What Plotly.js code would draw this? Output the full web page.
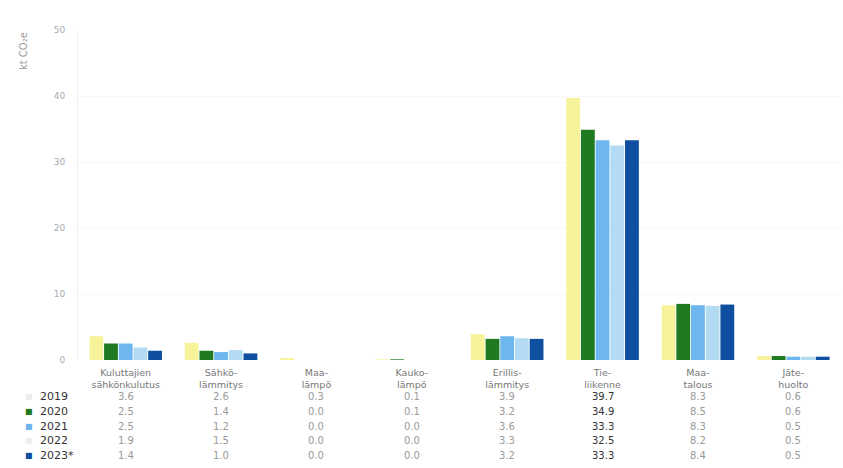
<!DOCTYPE html>
<html>
<head>
<meta charset="utf-8">
<script src="https://cdn.plot.ly/plotly-3.0.1.min.js"></script>
<style>html,body{margin:0;padding:0;background:#fff;}#chart{width:843px;height:468px;}</style>
</head>
<body>
<div id="chart"></div>
<script>
const categories = ["Kuluttajien<br>sähkönkulutus", "Sähkö-<br>lämmitys", "Maa-<br>lämpö", "Kauko-<br>lämpö", "Erillis-<br>lämmitys", "Tie-<br>liikenne", "Maa-<br>talous", "Jäte-<br>huolto"];
const years = ["2019", "2020", "2021", "2022", "2023*"];
const v2019 = [3.6, 2.6, 0.3, 0.1, 3.9, 39.7, 8.3, 0.6];
const v2020 = [2.5, 1.4, 0.0, 0.1, 3.2, 34.9, 8.5, 0.6];
const v2021 = [2.5, 1.2, 0.0, 0.0, 3.6, 33.3, 8.3, 0.5];
const v2022 = [1.9, 1.5, 0.0, 0.0, 3.3, 32.5, 8.2, 0.5];
const v2023 = [1.4, 1.0, 0.0, 0.0, 3.2, 33.3, 8.4, 0.5];
const series = [v2019, v2020, v2021, v2022, v2023];
const colors = ["#f6f39b", "#1f7a22", "#6db6ee", "#b3dcf4", "#0e4f9f"];
const yTitle = "kt CO₂e";

const traces = series.map((vals, i) => ({
  type: "bar", name: years[i], x: categories, y: vals,
  marker: {color: colors[i]}, hoverinfo: "skip"
}));

const rowY = [-0.112, -0.155, -0.2, -0.243, -0.288];
const annotations = [];
series.forEach((vals, i) => {
  vals.forEach((v, j) => {
    annotations.push({
      xref: "x", yref: "paper", x: categories[j], y: rowY[i],
      xanchor: "center", yanchor: "middle",
      text: v.toFixed(1), showarrow: false,
      font: {family: "DejaVu Sans, sans-serif", size: 10, color: j === 5 ? "#333" : "#9a9a9a"}
    });
  });
  annotations.push({
    xref: "paper", yref: "paper", x: (38 - 78) / 763, y: rowY[i], xanchor: "left", yanchor: "middle",
    text: years[i], showarrow: false,
    font: {family: "DejaVu Sans, sans-serif", size: 11, color: "#333"}
  });
  annotations.push({
    xref: "paper", yref: "paper", x: (29 - 78) / 763, y: rowY[i], xanchor: "center", yanchor: "middle",
    text: "■", showarrow: false,
    font: {family: "DejaVu Sans, sans-serif", size: 8, color: i === 0 || i === 3 ? "#eeeeee" : colors[i]}
  });
});
annotations.push({
  xref: "paper", yref: "paper", x: -0.072, y: 1.0, xanchor: "center", yanchor: "top",
  text: yTitle, textangle: -90, showarrow: false,
  font: {family: "DejaVu Sans, sans-serif", size: 10, color: "#999"}
});

const layout = {
  width: 843, height: 468,
  margin: {l: 78, r: 2, t: 30, b: 108},
  paper_bgcolor: "#fff", plot_bgcolor: "#fff",
  barmode: "group", bargap: 0.23, bargroupgap: 0.06,
  showlegend: false,
  font: {family: "DejaVu Sans, sans-serif", color: "#888"},
  xaxis: {
    type: "category", showgrid: false, zeroline: false, showline: false,
    tickfont: {size: 9.5, color: "#777"}, ticks: "", ticklabelstandoff: 5
  },
  yaxis: {
    range: [0, 50], dtick: 10, showgrid: true, gridcolor: "#f7f7f7",
    zeroline: false, showline: true, linecolor: "#f0f0f0",
    tickfont: {size: 9, color: "#aaa"}, ticklabelstandoff: 10
  },
  annotations: annotations
};

Plotly.newPlot("chart", traces, layout, {displayModeBar: false, staticPlot: true});
</script>
</body>
</html>
